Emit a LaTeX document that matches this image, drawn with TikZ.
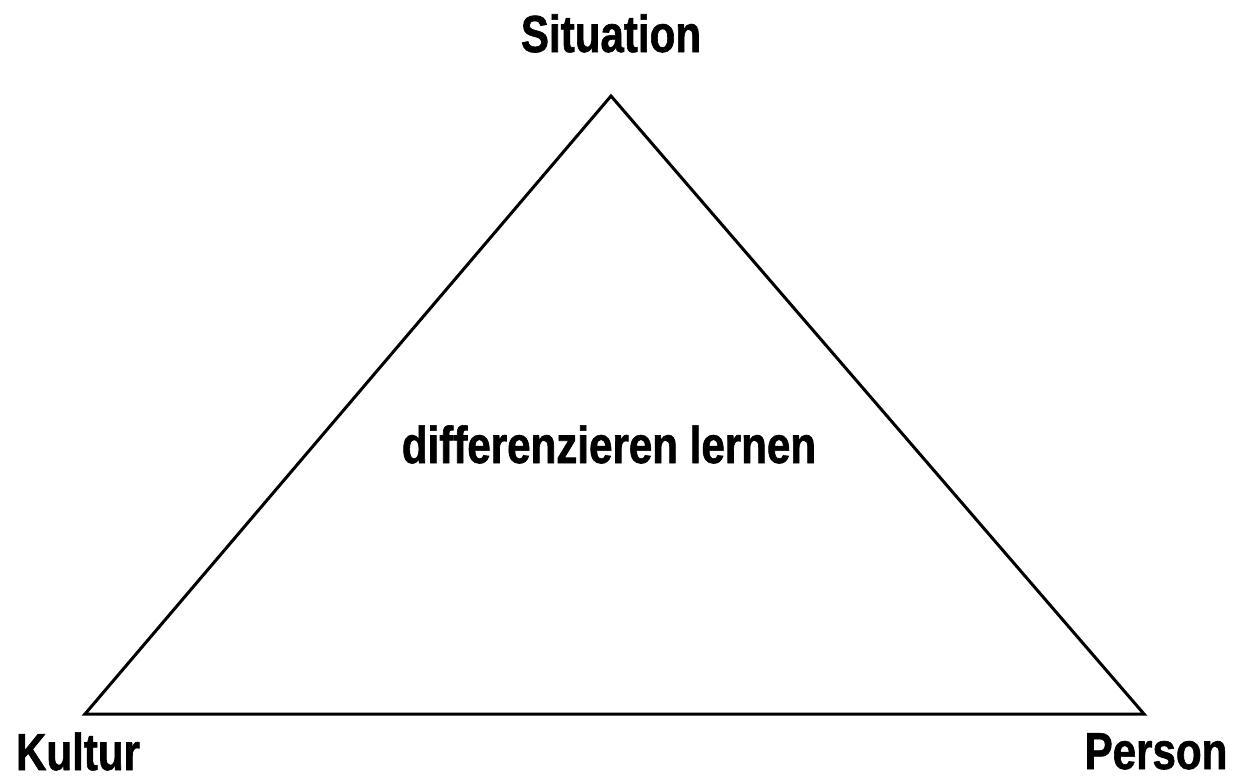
\documentclass[tikz,border=0pt]{standalone}
\usepackage{fontspec}
\newfontfamily\narrowsans[FakeStretch=0.81,FakeBold=1.2]{Liberation Sans}
\tikzset{
  lbl/.style={anchor=base, inner sep=0pt, font=\narrowsans\bfseries\fontsize{52}{60}\selectfont},
  edge/.style={line width=3pt, line join=miter}
}
\begin{document}
\begin{tikzpicture}[x=1pt,y=-1pt]
\useasboundingbox (0,0) rectangle (1236,779);
\coordinate (top) at (611,96);
\coordinate (bl) at (85,714);
\coordinate (br) at (1144,714);
\draw[edge] (top) -- (br) -- (bl) -- cycle;
\node[lbl] (sit) at (611,52) {Situation};
\node[lbl] (kul) at (78,770) {Kultur};
\node[lbl] (per) at (1156,769) {Person};
\node[lbl] (mid) at (609,463) {differenzieren lernen};
\end{tikzpicture}
\end{document}
